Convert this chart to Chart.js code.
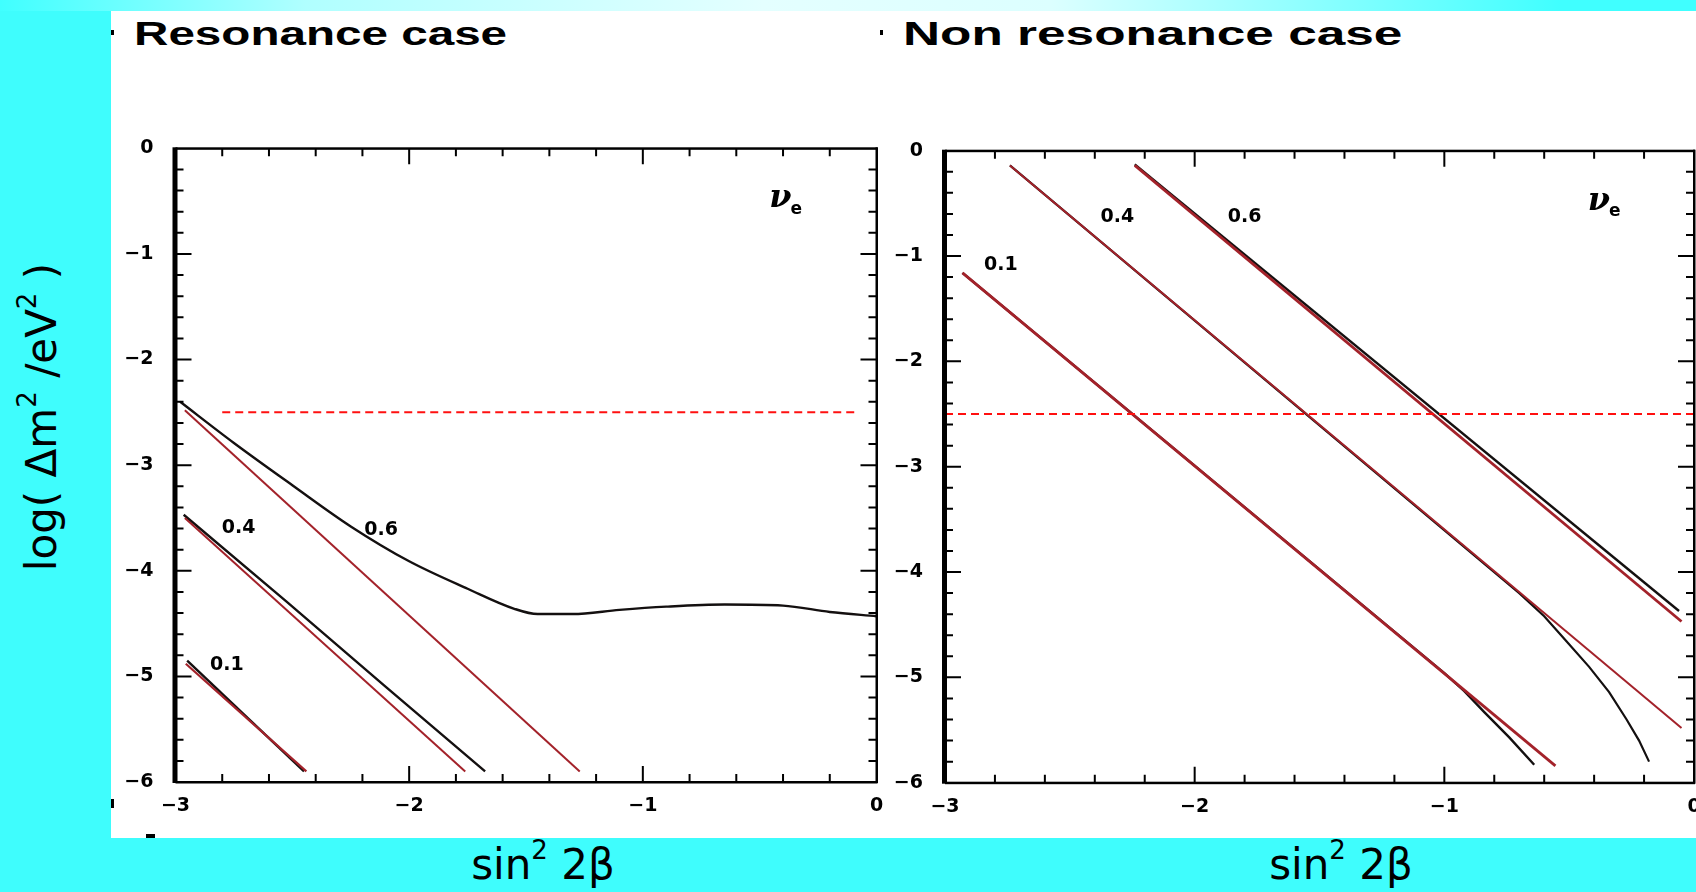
<!DOCTYPE html>
<html>
<head>
<meta charset="utf-8">
<script src="https://cdn.jsdelivr.net/npm/chart.js@4.4.1/dist/chart.umd.min.js"></script>
<style>
  html, body { margin: 0; padding: 0; }
  body { width: 1696px; height: 892px; overflow: hidden; position: relative; background: #3ffdfd; }
  #topband { position: absolute; left: 0; top: 0; width: 1696px; height: 11px;
    background: linear-gradient(to right, #40ffff 0%, #b0ffff 18%, #e4ffff 45%, #dcffff 62%, #40ffff 92%); }
  #sheet { position: absolute; left: 111px; top: 11px; width: 1585px; height: 827px; background: #fff; }
  .plot { position: absolute; top: 120px; }
  .title { position: absolute; top: 16px; font-family: "Liberation Sans", Arial, sans-serif; font-size: 34px;
    font-weight: bold; line-height: 34px; color: #000; transform-origin: 0 0; white-space: nowrap; }
  .xname { position: absolute; top: 864px; transform: translate(-50%, -50%); font-family: "DejaVu Sans", sans-serif;
    font-size: 42px; color: #000; white-space: nowrap; }
  .xname sup, #yname sup { font-size: 62%; vertical-align: 0.75em; line-height: 0; }
  #yname { position: absolute; left: 41px; top: 417px; transform: translate(-50%, -50%) rotate(-90deg);
    font-family: "DejaVu Sans", sans-serif; font-size: 42px; color: #000; white-space: nowrap; }
  .dot { position: absolute; background: #000; }
</style>
</head>
<body>
<div id="topband"></div>
<div id="sheet"></div>

<div class="dot" style="left:111px;top:30px;width:3px;height:5px"></div>
<div class="dot" style="left:880px;top:30px;width:3px;height:5px"></div>
<div class="dot" style="left:111px;top:799px;width:3px;height:9px"></div>
<div class="dot" style="left:146px;top:834px;width:9px;height:4px"></div>

<div class="title" style="left:134px;transform:scaleX(1.40)">Resonance case</div>
<div class="title" style="left:903px;transform:scaleX(1.51)">Non resonance case</div>

<div class="plot" style="left:100px"><canvas id="resChart" width="790" height="710"></canvas></div>
<div class="plot" style="left:880px"><canvas id="nonChart" width="840" height="710"></canvas></div>

<div id="yname">log( &Delta;m<sup>2</sup> /eV<sup>2</sup> )</div>
<div class="xname" style="left:543px">sin<sup>2</sup> 2&beta;</div>
<div class="xname" style="left:1341px">sin<sup>2</sup> 2&beta;</div>

<script>
// axis ranges and tick labels (log sin^2 2beta, log dm^2)
const xTicks = [-3, -2, -1, 0];
const yTicks = [0, -1, -2, -3, -4, -5, -6];
const contourNames = ['0.1', '0.4', '0.6'];
const cutLevel = -2.5;

// resonance case: black = full calculation, red = approximation
const res01BlackX = [-2.95, -2.45];
const res01BlackY = [-4.85, -5.90];
const res01RedX = [-2.956, -2.44];
const res01RedY = [-4.88, -5.90];
const res04BlackX = [-2.965, -2.526, -2.10, -1.675];
const res04BlackY = [-3.47, -4.29, -5.10, -5.90];
const res04RedX = [-2.96, -1.76];
const res04RedY = [-3.50, -5.90];
const res08BlackX = [-2.98, -2.75, -2.5, -2.25, -2.0, -1.75, -1.55, -1.45, -1.3, -1.1, -0.9, -0.65, -0.4, -0.2, 0];
const res08BlackY = [-2.40, -2.79, -3.19, -3.58, -3.91, -4.17, -4.36, -4.41, -4.41, -4.37, -4.34, -4.32, -4.33, -4.39, -4.43];
const res08RedX = [-2.96, -1.27];
const res08RedY = [-2.48, -5.90];
const resCutX = [-2.80, -0.08];

// non resonance case
const non01BlackX = [-2.93, -1.0, -0.92, -0.84, -0.74, -0.64];
const non01BlackY = [-1.16, -4.96, -5.13, -5.33, -5.57, -5.83];
const non01RedX = [-2.93, -0.555];
const non01RedY = [-1.16, -5.84];
const non04BlackX = [-2.74, -0.70, -0.60, -0.51, -0.42, -0.34, -0.27, -0.22, -0.18];
const non04BlackY = [-0.14, -4.20, -4.42, -4.66, -4.90, -5.14, -5.40, -5.60, -5.80];
const non04RedX = [-2.74, -0.05];
const non04RedY = [-0.14, -5.48];
const non08BlackX = [-2.24, -0.06];
const non08BlackY = [-0.13, -4.37];
const non08RedX = [-2.24, -0.05];
const non08RedY = [-0.14, -4.47];
const nonCutX = [-3, 0];

// where the contour names and the flavour tag sit, in axis units
const resNoteX = [-2.78, -2.73, -2.12];
const resNoteY = [-4.89, -3.60, -3.61];
const nonNoteX = [-2.776, -2.31, -1.80];
const nonNoteY = [-1.085, -0.63, -0.63];
const resNuAt = [-0.386, -0.51];
const nonNuAt = [-0.357, -0.516];

const BLACK = '#141010';
const RED = '#a3222a';

function pts(xs, ys) {
  return xs.map((v, i) => ({ x: v, y: ys[i] }));
}

function curve(xs, ys, color, width, smooth) {
  return { data: pts(xs, ys), borderColor: color, borderWidth: width, showLine: true,
           pointRadius: 0, tension: 0, cubicInterpolationMode: smooth ? 'monotone' : 'default', fill: false };
}

function cutLine(xs) {
  return { data: pts(xs, xs.map(() => cutLevel)), borderColor: '#ff1010', borderWidth: 2,
           borderDash: [8, 5], showLine: true, pointRadius: 0, fill: false };
}

// box with inward major/minor ticks, plus text notes
const framePlugin = {
  id: 'frame',
  afterDatasetsDraw(chart, args, opts) {
    const { ctx, chartArea: a, scales: { x, y } } = chart;
    ctx.save();
    ctx.fillStyle = '#000';
    ctx.fillRect(a.left - 3, a.top - 1, 5, a.bottom - a.top + 2);
    ctx.fillRect(a.left, a.top - 1, a.right - a.left + 1, 2.5);
    ctx.fillRect(a.left, a.bottom - 1, a.right - a.left + 1, 2.5);
    ctx.fillRect(a.right - 1, a.top - 1, 2.5, a.bottom - a.top + 2);

    ctx.strokeStyle = '#000';
    ctx.lineWidth = 2;
    ctx.beginPath();
    for (let k = 1; k < 15; k++) {
      const px = x.getPixelForValue(-3 + k * 0.2);
      const len = k % 5 === 0 ? 16 : 8;
      ctx.moveTo(px, a.bottom); ctx.lineTo(px, a.bottom - len);
      ctx.moveTo(px, a.top); ctx.lineTo(px, a.top + len);
    }
    for (let k = 1; k < 30; k++) {
      const py = y.getPixelForValue(-k * 0.2);
      const len = k % 5 === 0 ? 16 : 8;
      ctx.moveTo(a.left, py); ctx.lineTo(a.left + len, py);
      ctx.moveTo(a.right, py); ctx.lineTo(a.right - len, py);
    }
    ctx.stroke();

    ctx.textAlign = 'center';
    ctx.textBaseline = 'middle';
    ctx.font = 'bold 19px "DejaVu Sans"';
    opts.noteX.forEach((v, i) => {
      ctx.fillText(contourNames[i], x.getPixelForValue(v), y.getPixelForValue(opts.noteY[i]));
    });
    const nx = x.getPixelForValue(opts.nu[0]);
    const ny = y.getPixelForValue(opts.nu[1]);
    ctx.font = 'bold italic 32px "DejaVu Serif"';
    ctx.fillText('\u03bd', nx - 6, ny - 3);
    ctx.font = 'bold 17px "DejaVu Sans"';
    ctx.fillText('e', nx + 10, ny + 7);
    ctx.restore();
  }
};

function axisTick(v) {
  return v === 0 ? '0' : '\u2212' + Math.abs(v);
}

function makeChart(id, datasets, pad, notesX, notesY, nu) {
  const tickFont = { family: 'DejaVu Sans', weight: 'bold', size: 19 };
  return new Chart(document.getElementById(id), {
    type: 'scatter',
    data: { datasets: datasets },
    options: {
      responsive: false,
      animation: false,
      devicePixelRatio: 1,
      layout: { padding: pad },
      plugins: {
        legend: { display: false },
        tooltip: { enabled: false },
        frame: { noteX: notesX, noteY: notesY, nu: nu }
      },
      scales: {
        x: {
          type: 'linear', min: xTicks[0], max: xTicks[xTicks.length - 1],
          afterFit: s => { s.height = 40; },
          afterBuildTicks: s => { s.ticks = xTicks.map(v => ({ value: v })); },
          grid: { display: false }, border: { display: false },
          ticks: { color: '#000', font: tickFont, padding: 5, maxRotation: 0, autoSkip: false, callback: axisTick }
        },
        y: {
          type: 'linear', min: yTicks[yTicks.length - 1], max: yTicks[0],
          afterFit: s => { s.width = 60; },
          afterBuildTicks: s => { s.ticks = yTicks.map(v => ({ value: v })); },
          grid: { display: false }, border: { display: false },
          ticks: { color: '#000', font: tickFont, padding: 14, autoSkip: false, callback: axisTick }
        }
      }
    },
    plugins: [framePlugin]
  });
}

makeChart('resChart', [
  cutLine(resCutX),
  curve(res01RedX, res01RedY, RED, 2.2),
  curve(res01BlackX, res01BlackY, BLACK, 2.4),
  curve(res04RedX, res04RedY, RED, 2),
  curve(res04BlackX, res04BlackY, BLACK, 2.4),
  curve(res08RedX, res08RedY, RED, 2),
  curve(res08BlackX, res08BlackY, BLACK, 2.4, true)
], { left: 15.5, right: 13.5, top: 28.3, bottom: 8 }, resNoteX, resNoteY, resNuAt);

makeChart('nonChart', [
  cutLine(nonCutX),
  curve(non01RedX, non01RedY, RED, 2.8),
  curve(non01BlackX, non01BlackY, BLACK, 2.4),
  curve(non04RedX, non04RedY, RED, 2),
  curve(non04BlackX, non04BlackY, BLACK, 2.2),
  curve(non08RedX, non08RedY, RED, 2.8),
  curve(non08BlackX, non08BlackY, BLACK, 2.4)
], { left: 5, right: 26, top: 30.7, bottom: 7.3 }, nonNoteX, nonNoteY, nonNuAt);
</script>
</body>
</html>
